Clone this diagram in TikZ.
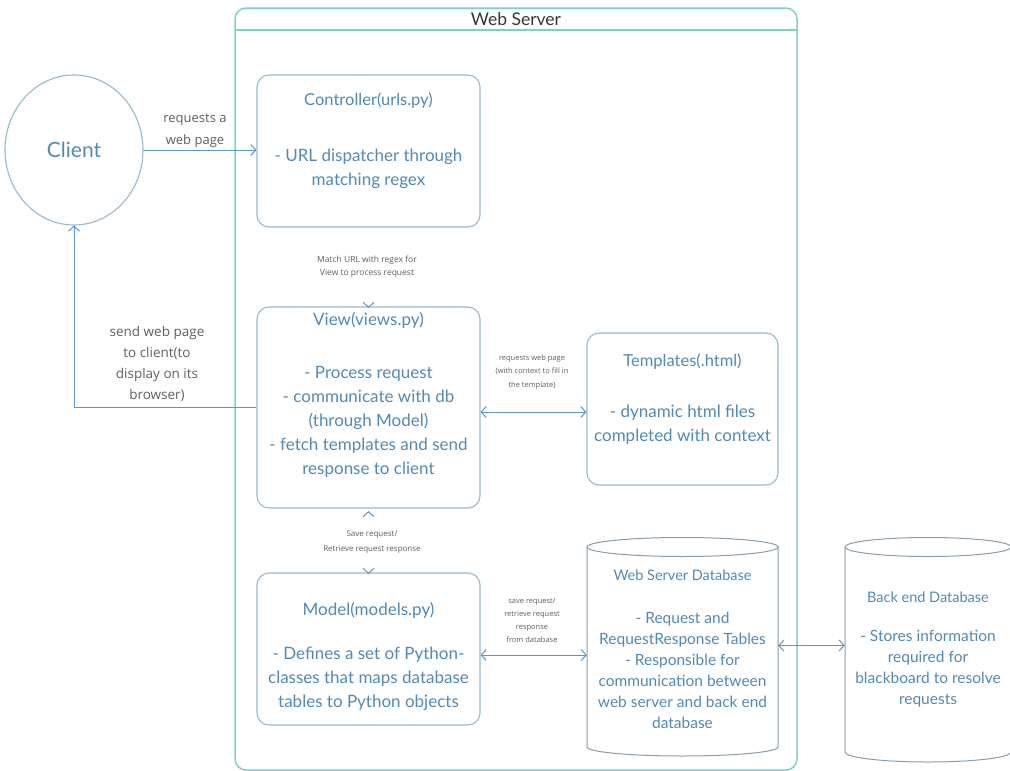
\documentclass[tikz,border=0pt]{standalone}
\usepackage{fontspec}
\setmainfont{Lato}
\newfontfamily\lblfont{Open Sans}
\usetikzlibrary{arrows.meta,shapes.geometric,calc}

\definecolor{boxline}{RGB}{150,186,208}
\definecolor{boxtext}{RGB}{82,138,180}
\definecolor{conn}{RGB}{88,150,196}
\definecolor{frame}{RGB}{122,212,192}
\definecolor{lbl}{RGB}{95,95,95}
\definecolor{dbline}{RGB}{135,158,175}

\tikzset{
  box/.style={draw=boxline, line width=1.1pt, rounded corners=12pt, fill=white, inner sep=0pt},
  boxtitle/.style={text=boxtext, font=\fontsize{16.5}{20}\selectfont},
  boxbody/.style={text=boxtext, align=center, font=\fontsize{17}{24}\selectfont},
  dbtitle/.style={text=boxtext, font=\fontsize{14.5}{18}\selectfont},
  dbbody/.style={text=boxtext, align=center, font=\fontsize{15.5}{21}\selectfont},
  cyl/.style={draw=dbline, line width=1pt, fill=white},
  anchorbox/.style={draw=none, inner sep=0pt},
  link/.style={draw=conn, line width=1pt},
  hiddenlink/.style={draw=white, line width=1pt},
  barb/.tip={Straight Barb[length=5pt,width=11pt,line width=1pt,color=conn]},
  edgelbl/.style={text=lbl, align=center, inner sep=1pt}
}

\begin{document}
\begin{tikzpicture}[x=1pt,y=-1pt]
  \useasboundingbox[fill=white] (0,0) rectangle (1010,771);

  % Web Server container with its title bar
  \draw[frame, line width=1.5pt, rounded corners=11pt] (235,8) rectangle (797,770);
  \draw[frame, line width=1.2pt] (235,30) -- (797,30);
  \node (wstitle) at (516,19) {\fontsize{17.5}{20}\selectfont\color[RGB]{55,55,55}Web Server};

  % Client
  \node (client) [ellipse, draw=boxline, line width=1.1pt, minimum width=138pt, minimum height=150pt,
        text=boxtext, font=\fontsize{21}{25}\selectfont] at (74,150) {Client};

  % Controller
  \node (ctrl) [box, minimum width=223pt, minimum height=152pt] at (368.5,151) {};
  \node (ctrlT) [boxtitle] at (368.5,101) {Controller(urls.py)};
  \node (ctrlB) [boxbody] at (368.5,169) {- URL dispatcher through\\matching regex};

  % View
  \node (view) [box, minimum width=223pt, minimum height=201pt] at (368.5,407.5) {};
  \node (viewT) [boxtitle, font=\fontsize{17}{20}\selectfont] at (368.5,320) {View(views.py)};
  \node (viewB) [boxbody] at (368.5,421.5) {- Process request\\- communicate with db\\(through Model)\\- fetch templates and send\\response to client};

  % Templates
  \node (templ) [box, minimum width=191pt, minimum height=152pt] at (682.5,409) {};
  \node (templT) [boxtitle] at (682.5,362) {Templates(.html)};
  \node (templB) [boxbody] at (682.5,425) {- dynamic html files\\completed with context};

  % Model
  \node (model) [box, minimum width=223pt, minimum height=152pt] at (368.5,649) {};
  \node (modelT) [boxtitle, font=\fontsize{17}{20}\selectfont] at (368.5,610) {Model(models.py)};
  \node (modelB) [boxbody] at (368.5,679) {- Defines a set of Python-\\classes that maps database\\tables to Python objects};

  % Web Server Database (cylinder)
  \node (wsdb) [anchorbox, minimum width=191pt, minimum height=210pt] at (682.5,652) {};
  \path[cyl] (587,547) -- (587,747) arc[start angle=180, end angle=360, x radius=95.5pt, y radius=9pt]
             -- (778,547) -- cycle;
  \draw[cyl] (682.5,547) ellipse[x radius=95.5pt, y radius=9.5pt];
  \node (wsdbT) [dbtitle] at (682.5,575) {Web Server Database};
  \node (wsdbB) [dbbody] at (682.5,670.5) {- Request and\\RequestResponse Tables\\- Responsible for\\communication between\\web server and back end\\database};

  % Back end Database (cylinder)
  \node (bedb) [anchorbox, minimum width=166pt, minimum height=215pt] at (928,654.5) {};
  \path[cyl] (845,547) -- (845,752) arc[start angle=180, end angle=360, x radius=83pt, y radius=10pt]
             -- (1011,547) -- cycle;
  \draw[cyl] (928,547) ellipse[x radius=83pt, y radius=9.5pt];
  \node (bedbT) [dbtitle] at (928,597) {Back end Database};
  \node (bedbB) [dbbody] at (928,668.5) {- Stores information\\required for\\blackboard to resolve\\requests};

  % Connectors
  \draw[link, -barb] (client.east) -- (ctrl.west |- client.east);
  \draw[link, -barb] (view.west) -| (client.south);
  \draw[hiddenlink, -barb] (ctrl.south) -- ([yshift=-1.5pt]view.north);
  % view <-> model: only the two heads show, drawn outwards from a midpoint
  \coordinate (vmMid) at ($(view.south)!0.5!(model.north)$);
  \draw[hiddenlink, -barb] (vmMid) -- ([yshift=-2.5pt]view.south);
  \draw[hiddenlink, -barb] (vmMid) -- ([yshift=-1.5pt]model.north);
  \draw[link, barb-barb] ([yshift=-4.5pt]view.east) -- ([yshift=-4.5pt]view.east -| templ.west);
  \draw[link, barb-barb] ([yshift=-6pt]model.east) -- ([yshift=-6pt]model.east -| wsdb.west);
  \draw[link, barb-barb] ([yshift=6.5pt]wsdb.east) -- ([yshift=6.5pt]wsdb.east -| bedb.west);

  % Connector labels
  \node (lblReq) [edgelbl, font=\lblfont\fontsize{13}{22}\selectfont] at (195,131) {requests a\\web page};
  \node (lblSend) [edgelbl, font=\lblfont\fontsize{13.5}{21}\selectfont] at (157,363.5) {send web page\\to client(to\\display on its\\browser)};
  \node (lblMatch) [edgelbl, font=\lblfont\fontsize{8.5}{13}\selectfont] at (367,267) {Match URL with regex for\\View to process request};
  \node (lblTempl) [edgelbl, font=\lblfont\fontsize{7.5}{13.5}\selectfont] at (532,372) {requests web page\\(with context to fill in\\the template)};
  \node (lblSave) [edgelbl, font=\lblfont\fontsize{8}{15}\selectfont] at (372,542) {Save request/\\Retrieve request response};
  \node (lblDb) [edgelbl, font=\lblfont\fontsize{7.5}{13}\selectfont] at (532,620) {save request/\\retrieve request\\response\\from database};
\end{tikzpicture}
\end{document}
